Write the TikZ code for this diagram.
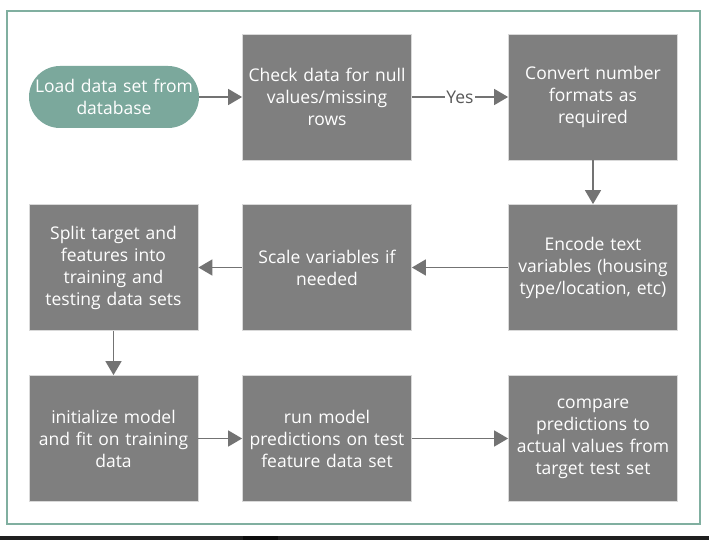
\documentclass[tikz,border=0pt]{standalone}
\usepackage{fontspec}
\setmainfont{Open Sans}
\usetikzlibrary{arrows.meta}
\definecolor{boxgray}{HTML}{7F7F7F}
\definecolor{teal}{HTML}{7BA89C}
\definecolor{frame}{HTML}{80AFA0}
\definecolor{arrowgray}{HTML}{737373}
\definecolor{labelgray}{HTML}{595959}
\begin{document}
\begin{tikzpicture}[x=1pt,y=-1pt,
  stepbox/.style={draw=white!85!black, line width=0.8pt, fill=boxgray, text=white,
    minimum width=169pt, minimum height=126pt, inner sep=1pt, text width=166pt,
    align=center, font=\fontsize{17.5}{22}\selectfont},
  startbox/.style={fill=teal, text=white, rounded corners=31pt,
    minimum width=170pt, minimum height=62pt, inner sep=1pt, text width=168pt,
    align=center, font=\fontsize{17.5}{22}\selectfont},
  flow/.style={draw=arrowgray, line width=1.6pt, -{Triangle[length=14pt,width=16pt]}},
  lbl/.style={fill=white, text=labelgray, inner sep=1pt, font=\fontsize{17.5}{20}\selectfont}]
\useasboundingbox (0,0) rectangle (709,540);
\fill[white] (0,0) rectangle (709,540);
\fill[black!88] (0,536) rectangle (709,540);
\fill[black!95] (243,536) rectangle (278,540);
\draw[frame, line width=1.8pt] (7,11) rectangle (700,524);

\node[startbox] (load) at (114,97) {Load data set from\\database};
\node[stepbox] (check) at (327,97) {Check data for null\\values/missing\\rows};
\node[stepbox] (convert) at (593,97) {Convert number\\formats as\\required};
\node[stepbox] (encode) at (593,267.5) {Encode text\\variables (housing\\type/location, etc)};
\node[stepbox] (scale) at (327,267.5) {Scale variables if\\needed};
\node[stepbox] (split) at (113.5,267.5) {Split target and\\features into\\training and\\testing data sets};
\node[stepbox] (init) at (113.5,438.5) {initialize model\\and fit on training\\data};
\node[stepbox] (run) at (327,438.5) {run model\\predictions on test\\feature data set};
\node[stepbox] (compare) at (593,438.5) {compare\\predictions to\\actual values from\\target test set};

\draw[flow] (load) -- (check);
\draw[flow] (check) -- node[lbl] {Yes} (convert);
\draw[flow] (convert) -- (encode);
\draw[flow] (encode) -- (scale);
\draw[flow] (scale) -- (split);
\draw[flow] (split) -- (init);
\draw[flow] (init) -- (run);
\draw[flow] (run) -- (compare);
\end{tikzpicture}
\end{document}
